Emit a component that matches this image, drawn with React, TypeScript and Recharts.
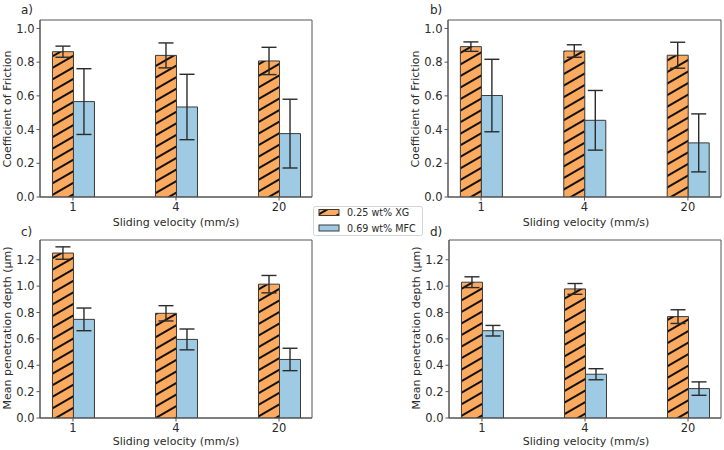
import { Bar, BarChart, ErrorBar, ReferenceArea, XAxis, YAxis } from "recharts";

const VELOCITIES = ["1", "4", "20"];
const POSITIONS = [0, 1, 2];

const SERIES_NAMES = ["0.25 wt% XG", "0.69 wt% MFC"];

// a) coefficient of friction
const COF_A_XG = [0.862, 0.84, 0.807];
const COF_A_XG_ERR = [0.033, 0.074, 0.081];
const COF_A_MFC = [0.566, 0.534, 0.376];
const COF_A_MFC_ERR = [0.195, 0.194, 0.204];

// b) coefficient of friction
const COF_B_XG = [0.892, 0.866, 0.841];
const COF_B_XG_ERR = [0.028, 0.037, 0.077];
const COF_B_MFC = [0.602, 0.455, 0.321];
const COF_B_MFC_ERR = [0.215, 0.177, 0.172];

// c) mean penetration depth
const DEPTH_C_XG = [1.251, 0.794, 1.015];
const DEPTH_C_XG_ERR = [0.047, 0.058, 0.066];
const DEPTH_C_MFC = [0.748, 0.596, 0.444];
const DEPTH_C_MFC_ERR = [0.086, 0.079, 0.085];

// d) mean penetration depth
const DEPTH_D_XG = [1.03, 0.979, 0.769];
const DEPTH_D_XG_ERR = [0.041, 0.041, 0.052];
const DEPTH_D_MFC = [0.662, 0.332, 0.223];
const DEPTH_D_MFC_ERR = [0.04, 0.042, 0.051];

const COF_TICKS = [0, 0.2, 0.4, 0.6, 0.8, 1.0];
const DEPTH_TICKS = [0, 0.2, 0.4, 0.6, 0.8, 1.0, 1.2];

const ORANGE = "#fbaa5f";
const BLUE = "#9ecbe3";
const EDGE = "#3a3a3a";
const SPINE = "#555";
const TEXT = "#2a2a2a";
const FONT = "'DejaVu Sans', sans-serif";

function rows(xg: number[], xgErr: number[], mfc: number[], mfcErr: number[]) {
  return POSITIONS.map((x, i) => ({
    x,
    xg: xg[i],
    xgErr: xgErr[i],
    mfc: mfc[i],
    mfcErr: mfcErr[i],
  }));
}

interface PanelProps {
  id: string;
  left: number;
  top: number;
  margin: { top: number; right: number; bottom: number; left: number };
  data: ReturnType<typeof rows>;
  yMax: number;
  yTicks: number[];
}

function HatchPattern({ id }: { id: string }) {
  return (
    <pattern
      id={id}
      patternUnits="userSpaceOnUse"
      width={10}
      height={10}
      patternTransform="rotate(-30)"
    >
      <rect width={10} height={10} fill={ORANGE} />
      <line x1={0} y1={5} x2={10} y2={5} stroke="#111" strokeWidth={2} />
    </pattern>
  );
}

function Panel({ id, left, top, margin, data, yMax, yTicks }: PanelProps) {
  const tick = { fontSize: 11.5, fill: TEXT, fontFamily: FONT };
  return (
    <div style={{ position: "absolute", left, top }}>
      <BarChart width={362} height={225} data={data} margin={margin} barGap={0}>
        <defs>
          <HatchPattern id={`hatch-${id}`} />
        </defs>
        <XAxis
          type="number"
          dataKey="x"
          domain={[-0.32, 2.32]}
          ticks={POSITIONS}
          interval={0}
          tickFormatter={(v) => VELOCITIES[v]}
          height={20}
          tick={tick}
          tickSize={3.5}
          tickMargin={2}
          stroke={SPINE}
          allowDataOverflow
        />
        <YAxis
          type="number"
          domain={[0, yMax]}
          ticks={yTicks}
          interval={0}
          tickFormatter={(v) => v.toFixed(1)}
          width={30}
          tick={tick}
          tickSize={3.5}
          tickMargin={2}
          stroke={SPINE}
          allowDataOverflow
        />
        <ReferenceArea
          x1={-0.32}
          x2={2.32}
          y1={0}
          y2={yMax}
          fill="none"
          stroke={SPINE}
          strokeWidth={1}
        />
        <Bar
          dataKey="xg"
          fill={`url(#hatch-${id})`}
          stroke={EDGE}
          strokeWidth={1}
          barSize={21}
          isAnimationActive={false}
        >
          <ErrorBar dataKey="xgErr" direction="y" width={7.5} stroke="#2b2b2b" strokeWidth={1.4} />
        </Bar>
        <Bar
          dataKey="mfc"
          fill={BLUE}
          stroke={EDGE}
          strokeWidth={1}
          barSize={21}
          isAnimationActive={false}
        >
          <ErrorBar dataKey="mfcErr" direction="y" width={7.5} stroke="#2b2b2b" strokeWidth={1.4} />
        </Bar>
      </BarChart>
    </div>
  );
}

export default function App() {
  const label = { fontFamily: FONT, fill: TEXT };
  return (
    <div
      style={{
        position: "absolute",
        left: 0,
        top: 0,
        width: 724,
        height: 450,
        background: "#fff",
        overflow: "hidden",
      }}
    >
      <Panel
        id="a"
        left={0}
        top={0}
        margin={{ top: 20, right: 50, bottom: 8, left: 10 }}
        data={rows(COF_A_XG, COF_A_XG_ERR, COF_A_MFC, COF_A_MFC_ERR)}
        yMax={1.05}
        yTicks={COF_TICKS}
      />
      <Panel
        id="b"
        left={362}
        top={0}
        margin={{ top: 20, right: 3, bottom: 8, left: 56 }}
        data={rows(COF_B_XG, COF_B_XG_ERR, COF_B_MFC, COF_B_MFC_ERR)}
        yMax={1.05}
        yTicks={COF_TICKS}
      />
      <Panel
        id="c"
        left={0}
        top={225}
        margin={{ top: 15, right: 50, bottom: 12, left: 10 }}
        data={rows(DEPTH_C_XG, DEPTH_C_XG_ERR, DEPTH_C_MFC, DEPTH_C_MFC_ERR)}
        yMax={1.35}
        yTicks={DEPTH_TICKS}
      />
      <Panel
        id="d"
        left={362}
        top={225}
        margin={{ top: 15, right: 3, bottom: 12, left: 57 }}
        data={rows(DEPTH_D_XG, DEPTH_D_XG_ERR, DEPTH_D_MFC, DEPTH_D_MFC_ERR)}
        yMax={1.35}
        yTicks={DEPTH_TICKS}
      />

      <svg
        width={724}
        height={450}
        style={{ position: "absolute", left: 0, top: 0, pointerEvents: "none" }}
      >
        <defs>
          <HatchPattern id="hatch-legend" />
        </defs>

        {/* panel letters */}
        <text x={21} y={14} fontSize={12} {...label}>a)</text>
        <text x={430} y={14} fontSize={12} {...label}>b)</text>
        <text x={21} y={236} fontSize={12} {...label}>c)</text>
        <text x={430} y={236} fontSize={12} {...label}>d)</text>

        {/* y axis titles */}
        <text transform="translate(11,109) rotate(-90)" textAnchor="middle" fontSize={11} {...label}>
          Coefficient of Friction
        </text>
        <text transform="translate(419,109) rotate(-90)" textAnchor="middle" fontSize={11} {...label}>
          Coefficient of Friction
        </text>
        <text transform="translate(10.5,328) rotate(-90)" textAnchor="middle" fontSize={11} {...label}>
          Mean penetration depth (μm)
        </text>
        <text transform="translate(419.5,328) rotate(-90)" textAnchor="middle" fontSize={11} {...label}>
          Mean penetration depth (μm)
        </text>

        {/* x axis titles */}
        <text x={176} y={225.5} textAnchor="middle" fontSize={11} {...label}>Sliding velocity (mm/s)</text>
        <text x={586} y={225.5} textAnchor="middle" fontSize={11} {...label}>Sliding velocity (mm/s)</text>
        <text x={176} y={445} textAnchor="middle" fontSize={11} {...label}>Sliding velocity (mm/s)</text>
        <text x={586} y={445} textAnchor="middle" fontSize={11} {...label}>Sliding velocity (mm/s)</text>

        {/* shared legend */}
        <rect x={313.5} y={206.5} width={109} height={29} rx={2} fill="#fff" stroke="#d4d4d4" />
        <rect x={319} y={209.5} width={20} height={6} fill="url(#hatch-legend)" stroke={EDGE} />
        <rect x={319} y={225} width={20} height={6} fill={BLUE} stroke={EDGE} />
        <text x={347} y={215.8} fontSize={9.6} {...label}>{SERIES_NAMES[0]}</text>
        <text x={347} y={231.5} fontSize={9.6} {...label}>{SERIES_NAMES[1]}</text>
      </svg>
    </div>
  );
}
